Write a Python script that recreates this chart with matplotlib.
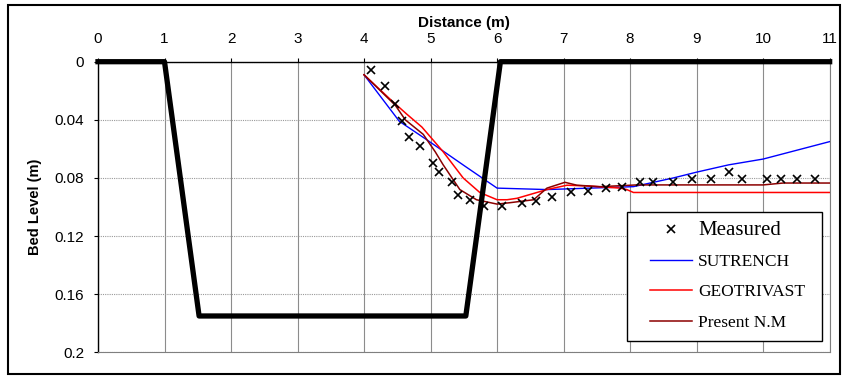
import matplotlib
matplotlib.use("Agg")
import matplotlib.pyplot as plt
from matplotlib.patches import Rectangle

# Trench geometry (bed level below initial bed, m)
TRENCH_X = [0.0, 1.0, 1.52, 5.53, 6.05, 11.0]
TRENCH_Y = [0.0, 0.0, 0.175, 0.175, 0.0, 0.0]

# Measured bed profile
MEASURED_X = [4.10, 4.31, 4.46, 4.57, 4.68, 4.84, 5.03, 5.12, 5.32, 5.41, 5.60,
              5.81, 6.08, 6.37, 6.58, 6.82, 7.11, 7.37, 7.64, 7.88, 8.15, 8.35,
              8.64, 8.93, 9.21, 9.48, 9.68, 10.06, 10.27, 10.51, 10.78]
MEASURED_Y = [0.006, 0.017, 0.029, 0.041, 0.052, 0.058, 0.070, 0.076, 0.083, 0.092, 0.095,
              0.099, 0.099, 0.097, 0.096, 0.093, 0.090, 0.089, 0.087, 0.086, 0.083, 0.083,
              0.083, 0.081, 0.081, 0.076, 0.081, 0.081, 0.081, 0.081, 0.081]

# SUTRENCH model
SUTRENCH_X = [4.0, 4.53, 4.92, 5.52, 6.0, 6.75, 8.05, 8.65, 9.0, 9.48, 10.0, 10.5, 11.0]
SUTRENCH_Y = [0.009, 0.041, 0.053, 0.072, 0.087, 0.088, 0.086, 0.080, 0.076, 0.071, 0.067, 0.061, 0.055]

# GEOTRIVAST model
GEOTRIVAST_X = [4.0, 4.42, 4.64, 4.87, 5.04, 5.19, 5.49, 5.74, 6.0, 6.15, 6.3, 6.75,
                7.05, 7.35, 7.85, 7.95, 8.05, 11.0]
GEOTRIVAST_Y = [0.009, 0.027, 0.036, 0.045, 0.054, 0.062, 0.080, 0.090, 0.095, 0.095, 0.094, 0.088,
                0.085, 0.0855, 0.087, 0.088, 0.090, 0.090]

# Present numerical model
PRESENT_X = [4.0, 4.47, 4.62, 4.89, 5.07, 5.19, 5.44, 5.69, 6.0, 6.2, 6.55, 6.75,
             7.02, 7.2, 7.55, 8.1, 10.0, 10.3, 11.0]
PRESENT_Y = [0.009, 0.030, 0.040, 0.050, 0.062, 0.071, 0.088, 0.095, 0.098, 0.097, 0.095, 0.087,
             0.083, 0.085, 0.086, 0.0848, 0.0848, 0.0835, 0.0835]

X_TICKS = list(range(0, 12))
Y_TICKS = [0, 0.04, 0.08, 0.12, 0.16, 0.2]
Y_TICK_LABELS = ["0", "0.04", "0.08", "0.12", "0.16", "0.2"]


def main():
    plt.rcParams['font.family'] = ['Liberation Sans', 'DejaVu Sans']
    fig = plt.figure(figsize=(8.44, 3.76), dpi=100)
    ax = fig.add_axes([0.1161, 0.063, 0.8669, 0.7729])

    draw_profiles(ax)
    style_axes(ax)
    add_legend(ax)

    # Thin frame around the whole chart
    fig.patches.append(Rectangle((8 / 844, 2 / 376), 832 / 844, 369 / 376,
                                 transform=fig.transFigure, fill=False,
                                 edgecolor='black', linewidth=1.5))
    fig.savefig("out.png", dpi=100)


def draw_profiles(ax):
    ax.plot(MEASURED_X, MEASURED_Y, linestyle='none', marker='x', color='black',
            markersize=6, markeredgewidth=1.2, label='Measured', zorder=5)
    ax.plot(SUTRENCH_X, SUTRENCH_Y, color='#0000FF', linewidth=1.0, label='SUTRENCH', zorder=3)
    ax.plot(GEOTRIVAST_X, GEOTRIVAST_Y, color='#FF0000', linewidth=1.1, label='GEOTRIVAST', zorder=3)
    ax.plot(PRESENT_X, PRESENT_Y, color='#8B0000', linewidth=1.1, label='Present N.M', zorder=3)
    # trench outline drawn on top of the model curves
    ax.plot(TRENCH_X, TRENCH_Y, color='black', linewidth=3.8, zorder=4,
            clip_on=False, solid_capstyle='projecting')


def style_axes(ax):
    ax.set_xlim(0, 11)
    ax.set_ylim(0.2, 0)
    ax.set_xticks(X_TICKS)
    ax.set_yticks(Y_TICKS)
    ax.set_yticklabels(Y_TICK_LABELS)
    ax.xaxis.tick_top()
    ax.xaxis.set_label_position('top')
    ax.tick_params(axis='both', direction='out', length=3, width=0.8,
                   labelsize=11, colors='black')
    ax.tick_params(axis='x', pad=8)
    ax.tick_params(axis='y', pad=7)
    ax.set_xlabel('Distance (m)', fontsize=11, fontweight='bold', labelpad=4)
    ax.set_ylabel('Bed Level (m)', fontsize=10.5, fontweight='bold', labelpad=9)

    ax.grid(axis='x', color='#8c8c8c', linestyle='-', linewidth=0.8)
    ax.grid(axis='y', color='#9a9a9a', linestyle=(0, (1, 1)), linewidth=0.8)
    ax.set_axisbelow(True)
    for side in ['right', 'bottom']:
        ax.spines[side].set_color('#7f7f7f')
        ax.spines[side].set_linewidth(0.8)
    ax.spines['left'].set_linewidth(1.0)
    ax.spines['top'].set_linewidth(1.0)


# The legend box has more room at the sides than at top and bottom,
# so the frame is drawn as its own rectangle behind a frameless legend
def add_legend(ax):
    ax.add_patch(Rectangle((0.723, 0.039), 0.2665, 0.444, transform=ax.transAxes,
                           facecolor='white', edgecolor='black', linewidth=1.0,
                           zorder=6))
    leg = ax.legend(loc='upper left', bbox_to_anchor=(0.7544, 0.453),
                    prop={'family': 'Liberation Serif', 'size': 12.5},
                    frameon=False, borderpad=0, labelspacing=0.82,
                    handlelength=2.42, handletextpad=0.35, borderaxespad=0,
                    markerscale=0.85)
    leg.set_zorder(7)
    leg.get_texts()[0].set_fontsize(15)


if __name__ == "__main__":
    main()
